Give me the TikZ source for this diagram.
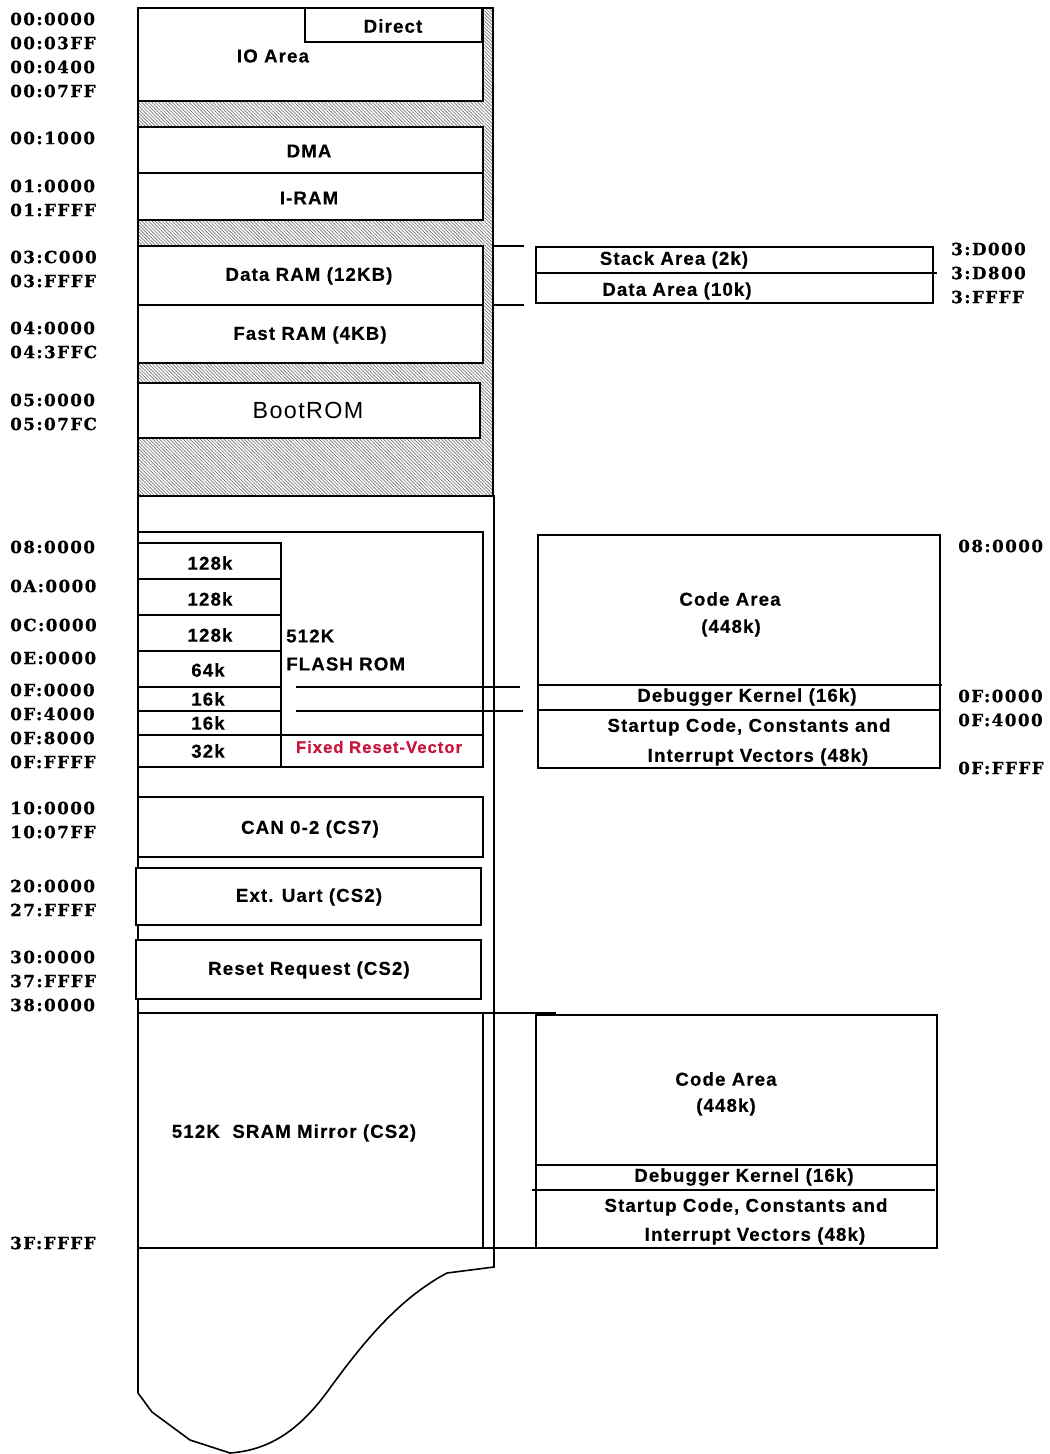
\documentclass[tikz,border=0pt]{standalone}
\usepackage{fontspec}
\setmainfont{Liberation Sans}
\newfontfamily\addrfont[LetterSpace=9,BoldFeatures={FakeBold=0.8}]{DejaVu Serif}
\newfontfamily\lblfont[LetterSpace=6,BoldFeatures={FakeBold=0.4}]{Liberation Sans}
\newfontfamily\plainfont[LetterSpace=6]{Liberation Sans}
\usetikzlibrary{patterns.meta}
\definecolor{resetred}{RGB}{200,20,60}
\begin{document}
\begin{tikzpicture}[x=0.75pt,y=-0.75pt,
  box/.style={draw=black,line width=1pt,fill=white},
  ln/.style={draw=black,line width=1pt},
  thk/.style={draw=black,line width=1.8pt},
  lbl/.style={font=\lblfont\bfseries\fontsize{14}{16}\selectfont,inner sep=0pt},
  addr/.style={font=\addrfont\bfseries\fontsize{12.5}{15}\selectfont,anchor=west,inner sep=0pt}]
\useasboundingbox[fill=white] (0,0) rectangle (1050,1454);

% ---------- hatched upper area ----------
\fill[pattern={Lines[angle=-45,distance=1.8pt,line width=0.5pt]},pattern color=black!55] (138,8) rectangle (493,496);
\draw[ln] (138,8) rectangle (493,496);

% upper boxes
\draw[box] (138,8) rectangle (483,101);
\draw[box] (305,8) rectangle (482,42);
\draw[thk] (482,8) -- (482,42);
\draw[box] (138,127) rectangle (483,173);
\draw[box] (138,173) rectangle (483,220);
\draw[thk] (138,173) -- (483,173);
\draw[box] (138,246) rectangle (483,305);
\draw[box] (138,305) rectangle (483,363);
\draw[thk] (138,305) -- (483,305);
\draw[box] (138,383) rectangle (480,438);

\node[lbl] (direct) at (393,26) {Direct};
\node[lbl] (io) at (273,56) {IO Area};
\node[lbl] (dma) at (309,151) {DMA};
\node[lbl] (iram) at (309,198) {I-RAM};
\node[lbl] (dram) at (309,276) {Data RAM (12KB)};
\node[lbl] (fram) at (310,335) {Fast RAM (4KB)};
\node[inner sep=0pt,font=\plainfont\fontsize{17.5}{20}\selectfont] (boot) at (308,410) {BootROM};

% stack / data area detail
\coordinate (dtop) at (493,246);
\coordinate (dbot) at (493,305);
\coordinate (stop) at (524,246);
\coordinate (sbot) at (524,305);
\draw[ln] (dtop) -- (stop);
\draw[ln] (dbot) -- (sbot);
\draw[box] (536,247) rectangle (933,303);
\draw[ln] (536,273) -- (937,273);
\node[lbl] (stack) at (674,260) {Stack Area (2k)};
\node[lbl] (darea) at (677,291) {Data Area (10k)};

% ---------- lower frame ----------
\draw[draw=black,line width=1.2pt,fill=white] (138,496) -- (494,496) -- (494,1267) -- (447,1273)
  .. controls (400,1298) and (365,1340) .. (330,1388)
  .. controls (300,1430) and (270,1450) .. (230,1453)
  -- (190,1440) -- (152,1412) -- (138,1393) -- cycle;

% flash
\draw[box] (138,532) rectangle (483,767);
\foreach \a/\b in {543/579,579/615,615/651,651/687,687/711,711/735,735/767}
  \draw[ln] (138,\a) rectangle (281,\b);
\draw[ln] (281,735) -- (483,735);
\draw[thk] (281,735) -- (281,767);
\node[lbl] (k1) at (210,563) {128k};
\node[lbl] (k2) at (210,599) {128k};
\node[lbl] (k3) at (210,635) {128k};
\node[lbl] (k4) at (208,670) {64k};
\node[lbl] (k5) at (208,699) {16k};
\node[lbl] (k6) at (208,723) {16k};
\node[lbl] (k7) at (208,751) {32k};
\node[lbl,anchor=west] (f1) at (286,636) {512K};
\node[lbl,anchor=west] (f2) at (286,664) {FLASH ROM};
\node[lbl,text=resetred,font=\lblfont\bfseries\fontsize{12.5}{14}\selectfont] (rv) at (379,747) {Fixed Reset-Vector};

\coordinate (l1a) at (296,687);
\coordinate (l1b) at (520,687);
\coordinate (l2a) at (296,711);
\coordinate (l2b) at (523,711);
\draw[ln] (l1a) -- (l1b);
\draw[ln] (l2a) -- (l2b);

% code area (flash)
\draw[box] (538,535) rectangle (940,768);
\draw[ln] (538,685) -- (942,685);
\draw[ln] (538,710) -- (940,710);
\node[lbl] (ca1) at (730,599) {Code Area};
\node[lbl] (ca2) at (731,628) {(448k)};
\node[lbl] (dk1) at (747,697) {Debugger Kernel (16k)};
\node[lbl] (st1) at (749,727) {Startup Code, Constants and};
\node[lbl] (iv1) at (758,757) {Interrupt Vectors (48k)};

% peripherals
\draw[box] (138,797) rectangle (483,857);
\draw[box] (136,868) rectangle (481,925);
\draw[box] (136,940) rectangle (481,999);
\node[lbl] (can) at (310,829) {CAN 0-2 (CS7)};
\node[lbl] (uart) at (309,897) {Ext. Uart (CS2)};
\node[lbl] (rreq) at (309,970) {Reset Request (CS2)};

% SRAM mirror
\draw[ln] (138,1013) -- (556,1013);
\draw[ln] (138,1248) -- (556,1248);
\draw[ln] (483,1013) -- (483,1248);
\draw[thk] (536,1013) -- (556,1013);
\draw[thk] (467,1248) -- (483,1248);
\draw[thk] (536,1248) -- (556,1248);
\node[lbl] (sram) at (294,1133) {512K\ \ SRAM Mirror (CS2)};

\draw[ln] (536,1015) rectangle (937,1248);
\draw[ln] (536,1165) -- (937,1165);
\draw[ln] (532,1190) -- (935,1190);
\node[lbl] (ca3) at (726,1079) {Code Area};
\node[lbl] (ca4) at (726,1107) {(448k)};
\node[lbl] (dk2) at (744,1177) {Debugger Kernel (16k)};
\node[lbl] (st2) at (746,1207) {Startup Code, Constants and};
\node[lbl] (iv2) at (755,1236) {Interrupt Vectors (48k)};

% ---------- addresses ----------
\foreach \n/\y/\t in {a1/19/00:0000,a2/43/00:03FF,a3/67/00:0400,a4/91/00:07FF,a5/138/00:1000,
  a6/186/01:0000,a7/210/01:FFFF,a8/257/03:C000,a9/281/03:FFFF,a10/328/04:0000,a11/352/04:3FFC,
  a12/400/05:0000,a13/424/05:07FC,a14/547/08:0000,a15/586/0A:0000,a16/625/0C:0000,a17/658/0E:0000,
  a18/690/0F:0000,a19/714/0F:4000,a20/738/0F:8000,a21/762/0F:FFFF,a22/808/10:0000,a23/832/10:07FF,
  a24/886/20:0000,a25/910/27:FFFF,a26/957/30:0000,a27/981/37:FFFF,a28/1005/38:0000,a29/1243/3F:FFFF}
  \node[addr] (\n) at (10,\y) {\t};
\foreach \n/\y/\t in {b1/249/3:D000,b2/273/3:D800,b3/297/3:FFFF}
  \node[addr] (\n) at (951,\y) {\t};
\foreach \n/\y/\t in {c1/546/08:0000,c2/696/0F:0000,c3/720/0F:4000,c4/768/0F:FFFF}
  \node[addr] (\n) at (958,\y) {\t};
\end{tikzpicture}
\end{document}
